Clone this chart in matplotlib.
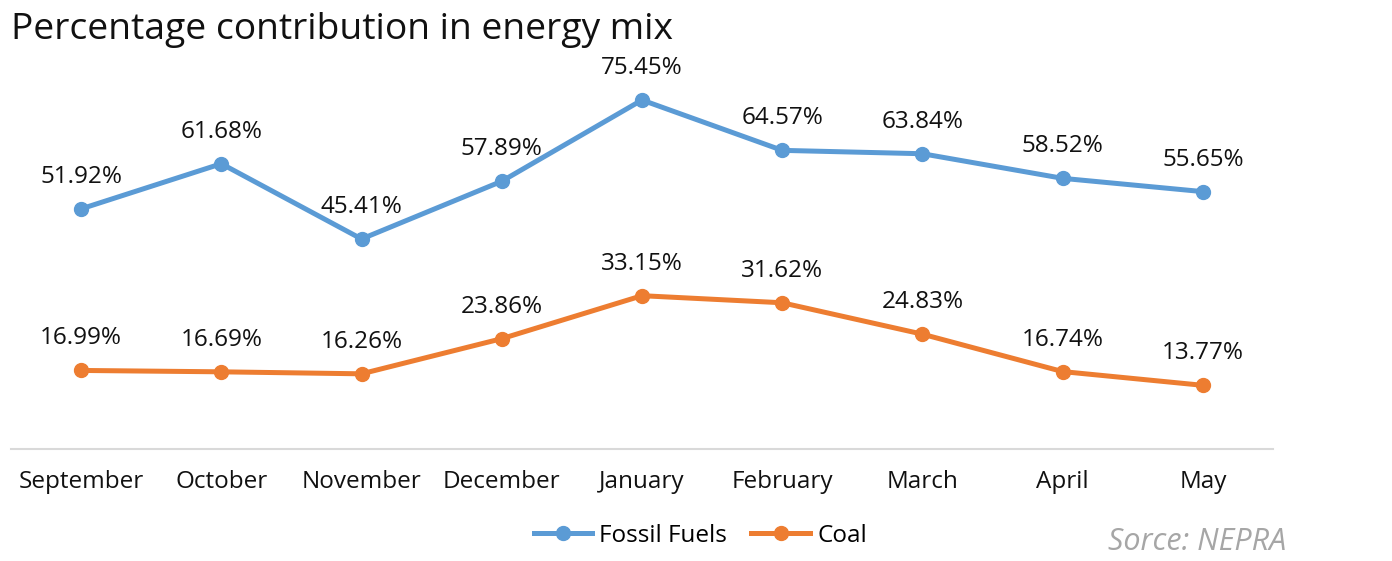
import matplotlib.pyplot as plt
import numpy as np

plt.rcParams['font.family'] = ['Open Sans', 'DejaVu Sans']

months = ['September', 'October', 'November', 'December', 'January',
          'February', 'March', 'April', 'May']
fossil = [51.92, 61.68, 45.41, 57.89, 75.45, 64.57, 63.84, 58.52, 55.65]
coal = [16.99, 16.69, 16.26, 23.86, 33.15, 31.62, 24.83, 16.74, 13.77]

blue = '#5B9BD5'
orange = '#ED7D31'

fig = plt.figure(figsize=(13.92, 5.61), dpi=100)
ax = fig.add_axes([0.0079, 0.1996, 0.9066, 0.6596])
x = np.arange(len(months))

ax.plot(x, fossil, color=blue, lw=3.6, marker='o', ms=10, label='Fossil Fuels')
ax.plot(x, coal, color=orange, lw=3.6, marker='o', ms=10, label='Coal')

for xi, v in zip(x, fossil):
    ax.annotate(f'{v:.2f}%', (xi, v), xytext=(0, 23), textcoords='offset points',
                ha='center', va='center', fontsize=17.5, color='#111111')
for xi, v in zip(x, coal):
    ax.annotate(f'{v:.2f}%', (xi, v), xytext=(0, 23), textcoords='offset points',
                ha='center', va='center', fontsize=17.5, color='#111111')

ax.set_xlim(-0.5, len(months) - 0.5)
ax.set_ylim(0, 80)
ax.set_xticks(x)
ax.set_xticklabels(months, fontsize=17.5, color='#111111')
ax.set_yticks([])
ax.tick_params(axis='x', length=0, pad=15)
for s in ['top', 'right', 'left']:
    ax.spines[s].set_visible(False)
ax.spines['bottom'].set_color('#D9D9D9')
ax.spines['bottom'].set_linewidth(1.5)

fig.text(0.008, 0.947, 'Percentage contribution in energy mix', fontsize=26.8,
         ha='left', va='center', color='#111111')

fig.legend(loc='center', bbox_to_anchor=(0.503, 0.045), ncol=2, frameon=False,
           fontsize=17.5, handlelength=2.4, columnspacing=1.0, handletextpad=0.3)

fig.text(0.924, 0.034, 'Sorce: NEPRA', fontsize=22, style='italic',
         color='#A6A6A6', ha='right', va='center')

fig.savefig('out.png', dpi=100)
